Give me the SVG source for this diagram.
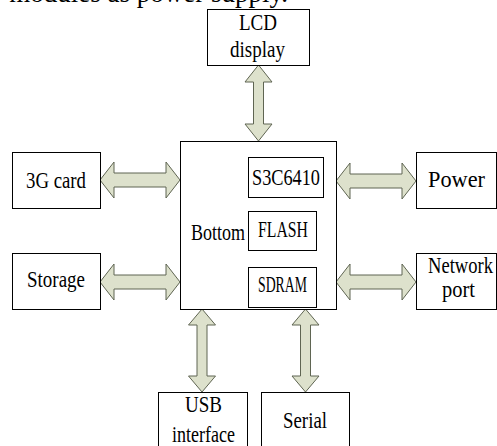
<svg xmlns="http://www.w3.org/2000/svg" width="497" height="446" viewBox="0 0 497 446">
<style>
.box{fill:#ffffff;stroke:#000000;stroke-width:1}
.arr{fill:#dde1cc;stroke:#5f6552;stroke-width:1;stroke-linejoin:miter}
text{font-family:"Liberation Serif","Times New Roman",serif;font-size:22.5px;fill:#000000}
</style>
<rect x="0" y="0" width="497" height="446" fill="#ffffff"/>
<text x="288" y="2" text-anchor="end" style="font-size:27px">modules as power supply.</text>
<g id="connectors">
<polygon class="arr" points="100,180 114,162 114,173 166,173 166,162 180,180 166,198 166,187 114,187 114,198"/>
<polygon class="arr" points="100,282 114,264 114,275 166,275 166,264 180,282 166,300 166,289 114,289 114,300"/>
<polygon class="arr" points="336,181 350,163 350,174 402,174 402,163 416,181 402,199 402,188 350,188 350,199"/>
<polygon class="arr" points="336,282 350,264 350,275 402,275 402,264 416,282 402,300 402,289 350,289 350,300"/>
<polygon class="arr" points="258.5,65 272,82 263.5,82 263.5,124 272,124 258.5,141 245,124 253.5,124 253.5,82 245,82"/>
<polygon class="arr" points="202,309 215.5,325 207,325 207,376 215.5,376 202,392 188.5,376 197,376 197,325 188.5,325"/>
<polygon class="arr" points="305.5,309 319,325 310.5,325 310.5,376 319,376 305.5,392 292,376 300.5,376 300.5,325 292,325"/>
</g>
<g id="lcd">
<rect class="box" x="207.5" y="9.5" width="102" height="56"/>
<text x="239" y="30" textLength="38" lengthAdjust="spacingAndGlyphs">LCD</text>
<text x="230" y="57" textLength="55" lengthAdjust="spacingAndGlyphs">display</text>
</g>
<g id="bottom">
<rect class="box" x="180.5" y="141.5" width="156" height="168"/>
<text x="191" y="240" textLength="54" lengthAdjust="spacingAndGlyphs">Bottom</text>
</g>
<g id="s3c6410">
<rect class="box" x="248.5" y="157.5" width="75" height="40"/>
<text x="252" y="185" textLength="68" lengthAdjust="spacingAndGlyphs">S3C6410</text>
</g>
<g id="flash">
<rect class="box" x="248.5" y="211.5" width="68" height="39"/>
<text x="258" y="237" textLength="50" lengthAdjust="spacingAndGlyphs">FLASH</text>
</g>
<g id="sdram">
<rect class="box" x="248.5" y="267.5" width="68" height="40"/>
<text x="258" y="292" textLength="49" lengthAdjust="spacingAndGlyphs">SDRAM</text>
</g>
<g id="card3g">
<rect class="box" x="12.5" y="152.5" width="88" height="56"/>
<text x="26" y="188" textLength="60" lengthAdjust="spacingAndGlyphs">3G card</text>
</g>
<g id="storage">
<rect class="box" x="12.5" y="253.5" width="88" height="56"/>
<text x="27" y="287" textLength="58" lengthAdjust="spacingAndGlyphs">Storage</text>
</g>
<g id="power">
<rect class="box" x="416.5" y="152.5" width="80" height="56"/>
<text x="428" y="187" textLength="57" lengthAdjust="spacingAndGlyphs">Power</text>
</g>
<g id="network">
<rect class="box" x="416.5" y="253.5" width="80" height="56"/>
<text x="428" y="273" textLength="65" lengthAdjust="spacingAndGlyphs">Network</text>
<text x="442" y="297" textLength="33" lengthAdjust="spacingAndGlyphs">port</text>
</g>
<g id="usb">
<rect class="box" x="158.5" y="392.5" width="89" height="60"/>
<text x="185" y="412" textLength="37" lengthAdjust="spacingAndGlyphs">USB</text>
<text x="172" y="442" textLength="63" lengthAdjust="spacingAndGlyphs">interface</text>
</g>
<g id="serial">
<rect class="box" x="261.5" y="392.5" width="88" height="60"/>
<text x="283" y="428" textLength="44" lengthAdjust="spacingAndGlyphs">Serial</text>
</g>
</svg>
